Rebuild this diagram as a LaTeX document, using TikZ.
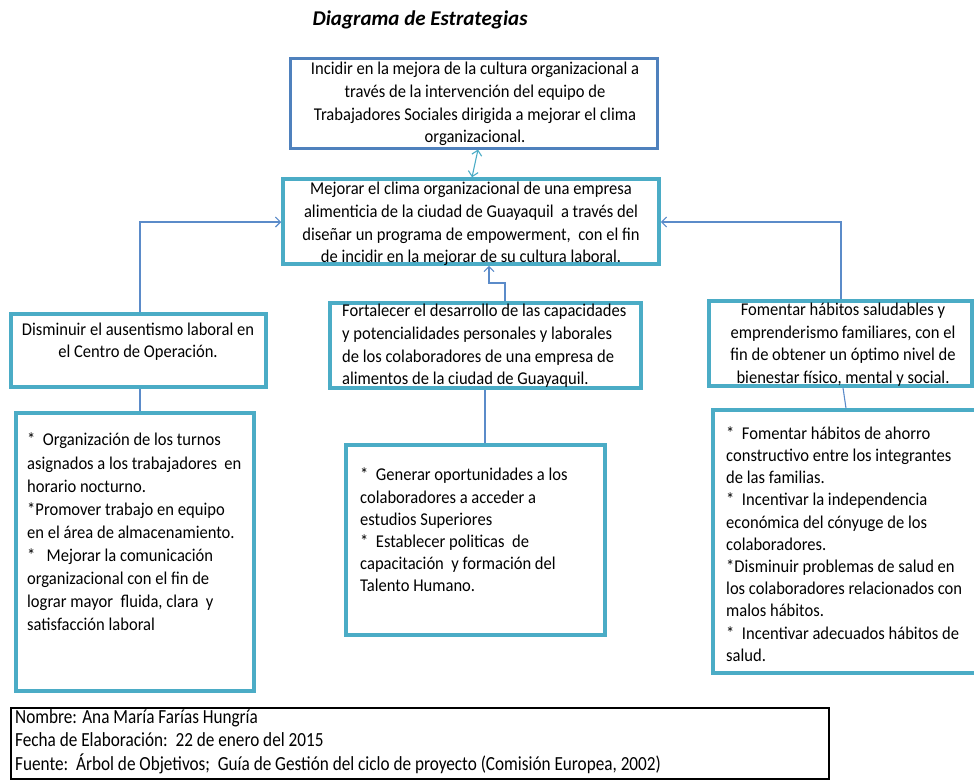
\documentclass[tikz,border=0pt]{standalone}
\usepackage{fontspec}
\setmainfont{Carlito}[FakeStretch=0.92]
\newfontfamily\titlefont{Carlito}
\newfontfamily\footfont{Carlito}[FakeStretch=0.86]
\usetikzlibrary{arrows.meta,calc,fit}
\definecolor{boxteal}{HTML}{4BACC6}
\definecolor{boxblue}{HTML}{4F81BD}
\definecolor{linkblue}{HTML}{5B8BC9}
\tikzset{
  box/.style={draw=boxteal, line width=3.5pt, inner sep=0pt, fill=white},
  topbox/.style={draw=boxblue, line width=3pt, inner sep=0pt, fill=white},
  footbox/.style={draw=black, line width=1.5pt, inner sep=0pt},
  txt/.style={inner sep=0pt, font=\fontsize{18}{22.6}\selectfont},
  ftxt/.style={inner sep=0pt, font=\footfont\fontsize{20}{23.5}\selectfont},
  link/.style={draw=linkblue, line width=1.1pt},
  tip/.style={-{Straight Barb[length=5pt,width=10pt]}},
  dbl/.style={draw=boxteal, line width=1.1pt, {Straight Barb[length=5pt,width=10pt]}-{Straight Barb[length=5pt,width=10pt]}}
}
\begin{document}
\begin{tikzpicture}[x=1pt,y=-1pt]
\useasboundingbox (0,0) rectangle (974,780);
% title
\node[inner sep=0pt, font=\titlefont\fontsize{21}{24}\selectfont\bfseries\itshape] (title) at (420,20) {Diagrama de Estrategias};
% boxes
\node[topbox, fit={(290,58) (657,148)}] (tbox) {};
\node[box, fit={(283,179) (659,264)}] (cbox) {};
\node[box, fit={(11,314) (266,387)}] (lbox) {};
\node[box, fit={(330,303) (641,388)}] (mbox) {};
\node[box, fit={(709,301) (972,386)}] (rbox) {};
\node[box, fit={(16,413) (254,691)}] (lbbox) {};
\node[box, fit={(346,445) (605,635)}] (mbbox) {};
\node[box, fit={(713,410) (980,673)}] (rbbox) {};
\node[footbox, fit={(11,708) (829,779)}] (fbox) {};
% texts
\node[txt, align=center] (ttxt) at (475,104) {Incidir en la mejora de la cultura organizacional a\\través de la intervención del equipo de\\Trabajadores Sociales dirigida a mejorar el clima\\organizacional.};
\node[txt, align=center] (ctxt) at (471,224) {Mejorar el clima organizacional de una empresa\\alimenticia de la ciudad de Guayaquil\ \ a través del\\diseñar un programa de empowerment,\ \ con el fin\\de incidir en la mejorar de su cultura laboral.};
\node[txt, align=center] (ltxt) at (138,341.5) {Disminuir el ausentismo laboral en\\el Centro de Operación.};
\node[txt, align=left, anchor=west] (mtxt) at (342,346) {Fortalecer el desarrollo de las capacidades\\y potencialidades personales y laborales\\de los colaboradores de una empresa de\\alimentos de la ciudad de Guayaquil.};
\node[txt, align=center] (rtxt) at (843,344.5) {Fomentar hábitos saludables y\\emprenderismo familiares, con el\\fin de obtener un óptimo nivel de\\bienestar físico, mental y social.};
\node[txt, align=left, anchor=west, font=\fontsize{18}{23.1}\selectfont] (lbtxt) at (27,532) {*\ \ Organización de los turnos\\asignados a los trabajadores\ \ en\\horario nocturno.\\*Promover trabajo en equipo\\en el área de almacenamiento.\\*\ \ \ Mejorar la comunicación\\organizacional con el fin de\\lograr mayor\ \ fluida, clara\ \ y\\satisfacción laboral};
\node[txt, align=left, anchor=west, font=\fontsize{18}{22.2}\selectfont] (mbtxt) at (360,530) {*\ \ Generar oportunidades a los\\colaboradores a acceder a\\estudios Superiores\\*\ \ Establecer politicas\ \ de\\capacitación\ \ y formación del\\Talento Humano.};
\node[txt, align=left, anchor=west, font=\fontsize{18}{22.2}\selectfont] (rbtxt) at (726,544) {*\ \ Fomentar hábitos de ahorro\\constructivo entre los integrantes\\de las familias.\\*\ \ Incentivar la independencia\\económica del cónyuge de los\\colaboradores.\\*Disminuir problemas de salud en\\los colaboradores relacionados con\\malos hábitos.\\*\ \ Incentivar adecuados hábitos de\\salud.};
\node[ftxt, align=left, anchor=west] (ftxt) at (15,741.7) {Nombre: Ana María Farías Hungría\\Fecha de Elaboración:\ \ 22 de enero del 2015\\Fuente:\ \ Árbol de Objetivos;\ \ Guía de Gestión del ciclo de proyecto (Comisión Europea, 2002)};
% connectors
\draw[dbl] (tbox.south -| 478,0) -- (cbox.north -| 472,0);
\coordinate (lk) at (140,222);
\coordinate (rk) at (841,222);
\draw[link, tip] (lbox.north -| lk) -- (lk) -- (lk -| cbox.west);
\draw[link, tip] (rbox.north -| rk) -- (rk) -- (rk -| cbox.east);
\coordinate (mk1) at (505,283);
\coordinate (mk2) at (489,283);
\draw[link, tip] (mbox.north -| mk1) -- (mk1) -- (mk2) -- (mk2 |- cbox.south);
\draw[link] (lbox.south -| lk) -- (lbbox.north -| lk);
\draw[link] (mbox.south -| 485,0) -- (mbbox.north -| 485,0);
\draw[link] (rbox.south -| 843,0) -- (rbbox.north -| 846,0);
\end{tikzpicture}
\end{document}
